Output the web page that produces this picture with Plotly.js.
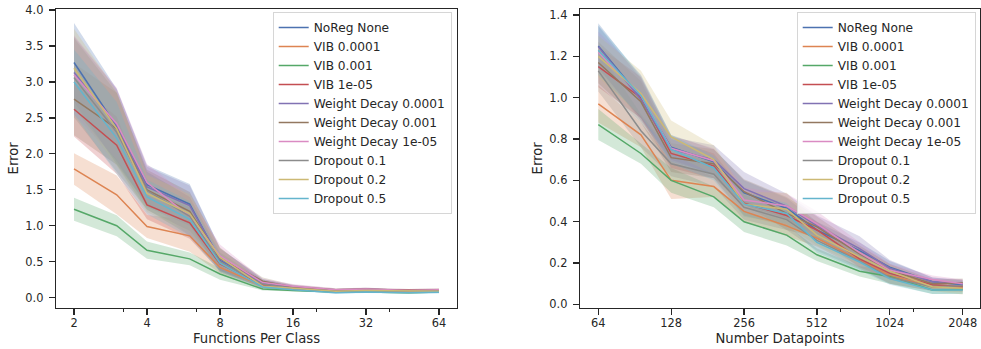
<!DOCTYPE html>
<html>
<head>
<meta charset="utf-8">
<script src="https://cdn.plot.ly/plotly-3.0.1.min.js"></script>
<style>
html,body{margin:0;padding:0;background:#fff;}
#chart{width:981px;height:349px;}
</style>
</head>
<body>
<div id="chart"></div>
<script>
// ---------- data ----------
const seriesNames = ["NoReg None","VIB 0.0001","VIB 0.001","VIB 1e-05","Weight Decay 0.0001","Weight Decay 0.001","Weight Decay 1e-05","Dropout 0.1","Dropout 0.2","Dropout 0.5"];
const seriesColors = ["#4C72B0","#DD8452","#55A868","#C44E52","#8172B3","#937860","#DA8BC3","#8C8C8C","#CCB974","#64B5CD"];

// Left panel: Functions Per Class
const funcX = [2,3,4,6,8,12,16,24,32,48,64];
const funcTickVals = [2,4,8,16,32,64];
const funcTickText = ["2","4","8","16","32","64"];
const funcMinorTicks = [3.2,6.4,20,40];

const funcNoReg   = [3.27,2.38,1.57,1.30,0.52,0.20,0.14,0.10,0.11,0.09,0.10];
const funcVIB1e4  = [1.79,1.43,0.99,0.86,0.42,0.16,0.12,0.09,0.10,0.08,0.09];
const funcVIB1e3  = [1.23,1.00,0.66,0.54,0.33,0.12,0.10,0.08,0.08,0.07,0.08];
const funcVIB1e5  = [2.62,2.12,1.29,1.04,0.47,0.18,0.13,0.10,0.11,0.10,0.10];
const funcWD1e4   = [3.13,2.40,1.54,1.28,0.54,0.20,0.15,0.10,0.12,0.09,0.10];
const funcWD1e3   = [2.76,2.35,1.50,1.20,0.55,0.23,0.15,0.11,0.12,0.10,0.11];
const funcWD1e5   = [3.10,2.42,1.60,1.13,0.58,0.21,0.16,0.11,0.12,0.10,0.11];
const funcDrop01  = [3.06,2.30,1.49,1.13,0.50,0.19,0.13,0.09,0.10,0.09,0.09];
const funcDrop02  = [3.19,2.35,1.45,1.17,0.56,0.16,0.13,0.09,0.10,0.09,0.09];
const funcDrop05  = [3.00,2.22,1.40,1.09,0.48,0.15,0.11,0.07,0.08,0.07,0.075];

const funcNoRegErr  = [0.55,0.52,0.27,0.28,0.17,0.06,0.03,0.02,0.02,0.02,0.02];
const funcVIB1e4Err = [0.22,0.27,0.16,0.22,0.08,0.03,0.02,0.015,0.015,0.01,0.015];
const funcVIB1e3Err = [0.16,0.145,0.12,0.09,0.08,0.02,0.015,0.01,0.01,0.01,0.01];
const funcVIB1e5Err = [0.38,0.40,0.20,0.22,0.10,0.04,0.02,0.015,0.015,0.015,0.015];
const funcWD1e4Err  = [0.50,0.50,0.28,0.28,0.15,0.05,0.03,0.02,0.02,0.02,0.02];
const funcWD1e3Err  = [0.50,0.50,0.28,0.27,0.13,0.05,0.03,0.02,0.02,0.02,0.02];
const funcWD1e5Err  = [0.55,0.50,0.26,0.27,0.16,0.05,0.03,0.02,0.02,0.02,0.02];
const funcDrop01Err = [0.55,0.55,0.26,0.27,0.13,0.05,0.03,0.02,0.02,0.02,0.02];
const funcDrop02Err = [0.55,0.52,0.26,0.27,0.14,0.04,0.03,0.02,0.02,0.02,0.02];
const funcDrop05Err = [0.45,0.50,0.24,0.25,0.12,0.03,0.02,0.015,0.015,0.01,0.015];

// Right panel: Number Datapoints
const dataX = [64,96,128,192,256,384,512,768,1024,1536,2048];
const dataTickVals = [64,128,256,512,1024,2048];
const dataTickText = ["64","128","256","512","1024","2048"];
const dataMinorTicks = [640,1280];

const dataNoReg   = [1.25,1.00,0.76,0.69,0.54,0.465,0.36,0.26,0.18,0.11,0.095];
const dataVIB1e4  = [0.97,0.82,0.60,0.57,0.45,0.38,0.32,0.215,0.14,0.085,0.08];
const dataVIB1e3  = [0.87,0.73,0.60,0.52,0.40,0.335,0.24,0.16,0.135,0.07,0.072];
const dataVIB1e5  = [1.15,1.00,0.73,0.67,0.49,0.43,0.36,0.22,0.15,0.095,0.085];
const dataWD1e4   = [1.247,0.99,0.75,0.70,0.56,0.475,0.38,0.27,0.175,0.11,0.10];
const dataWD1e3   = [1.17,0.98,0.71,0.68,0.545,0.44,0.375,0.245,0.165,0.10,0.105];
const dataWD1e5   = [1.22,1.01,0.755,0.695,0.505,0.476,0.39,0.25,0.165,0.12,0.10];
const dataDrop01  = [1.13,0.84,0.68,0.63,0.47,0.41,0.31,0.21,0.13,0.085,0.09];
const dataDrop02  = [1.20,1.02,0.81,0.70,0.485,0.46,0.335,0.23,0.16,0.085,0.078];
const dataDrop05  = [1.23,1.01,0.75,0.66,0.485,0.44,0.30,0.205,0.125,0.07,0.07];

const dataNoRegErr  = [0.11,0.10,0.06,0.06,0.06,0.05,0.04,0.04,0.03,0.02,0.02];
const dataVIB1e4Err = [0.09,0.06,0.09,0.05,0.05,0.05,0.04,0.04,0.04,0.02,0.02];
const dataVIB1e3Err = [0.075,0.05,0.06,0.05,0.05,0.05,0.03,0.025,0.035,0.02,0.02];
const dataVIB1e5Err = [0.10,0.10,0.07,0.06,0.06,0.05,0.04,0.04,0.03,0.02,0.02];
const dataWD1e4Err  = [0.10,0.10,0.06,0.07,0.08,0.06,0.05,0.06,0.04,0.02,0.02];
const dataWD1e3Err  = [0.10,0.10,0.07,0.07,0.06,0.08,0.05,0.04,0.03,0.02,0.02];
const dataWD1e5Err  = [0.10,0.10,0.06,0.06,0.06,0.06,0.06,0.05,0.03,0.02,0.02];
const dataDrop01Err = [0.10,0.08,0.06,0.06,0.06,0.05,0.05,0.04,0.03,0.02,0.02];
const dataDrop02Err = [0.10,0.11,0.08,0.07,0.06,0.08,0.05,0.04,0.03,0.02,0.03];
const dataDrop05Err = [0.12,0.10,0.07,0.06,0.06,0.05,0.05,0.04,0.03,0.02,0.02];

const funcMeans = [funcNoReg,funcVIB1e4,funcVIB1e3,funcVIB1e5,funcWD1e4,funcWD1e3,funcWD1e5,funcDrop01,funcDrop02,funcDrop05];
const funcErrs  = [funcNoRegErr,funcVIB1e4Err,funcVIB1e3Err,funcVIB1e5Err,funcWD1e4Err,funcWD1e3Err,funcWD1e5Err,funcDrop01Err,funcDrop02Err,funcDrop05Err];
const dataMeans = [dataNoReg,dataVIB1e4,dataVIB1e3,dataVIB1e5,dataWD1e4,dataWD1e3,dataWD1e5,dataDrop01,dataDrop02,dataDrop05];
const dataErrs  = [dataNoRegErr,dataVIB1e4Err,dataVIB1e3Err,dataVIB1e5Err,dataWD1e4Err,dataWD1e3Err,dataWD1e5Err,dataDrop01Err,dataDrop02Err,dataDrop05Err];

// ---------- build ----------
function hexToRgba(hex,a){
  const r=parseInt(hex.slice(1,3),16),g=parseInt(hex.slice(3,5),16),b=parseInt(hex.slice(5,7),16);
  return `rgba(${r},${g},${b},${a})`;
}
const bandTraces=[], lineTraces=[];
function addPanel(xs,means,errs,xa,ya,legendId){
  means.forEach((m,i)=>{
    const upper=m.map((v,k)=>v+errs[i][k]);
    const lower=m.map((v,k)=>v-errs[i][k]);
    bandTraces.push({
      x:xs.concat(xs.slice().reverse()),
      y:upper.concat(lower.slice().reverse()),
      xaxis:xa,yaxis:ya,type:'scatter',mode:'lines',fill:'toself',
      fillcolor:hexToRgba(seriesColors[i],0.26),line:{width:0,color:'rgba(0,0,0,0)'},
      showlegend:false,legend:legendId,hoverinfo:'skip'
    });
    lineTraces.push({
      x:xs,y:m,xaxis:xa,yaxis:ya,type:'scatter',mode:'lines',
      name:seriesNames[i],line:{color:seriesColors[i],width:1.5},
      legend:legendId,showlegend:true,hoverinfo:'skip'
    });
  });
}
addPanel(funcX,funcMeans,funcErrs,'x','y','legend');
addPanel(dataX,dataMeans,dataErrs,'x2','y2','legend2');
const traces=bandTraces.concat(lineTraces);

const W=981,H=349;
const ink='#262626';
const tickFont={family:'DejaVu Sans',size:11.4,color:ink};
const titleFont={family:'DejaVu Sans',size:13.2,color:ink};
const legFont={family:'DejaVu Sans',size:12.2,color:ink};
function xAxis(domain,range,tv,tt,minor,title){
  return {type:'log',domain:domain,range:range,tickmode:'array',tickvals:tv,ticktext:tt,
    showline:true,mirror:true,linecolor:ink,linewidth:1.25,ticks:'outside',ticklen:6,tickwidth:1.25,tickcolor:ink,
    minor:{tickmode:'array',tickvals:minor,ticks:'outside',ticklen:3.5,tickwidth:1,tickcolor:ink,showgrid:false},
    showgrid:false,zeroline:false,tickfont:tickFont,ticklabelstandoff:-2,
    title:{text:title,font:titleFont,standoff:5}};
}
function yAxis(range,dtick,title,anchor){
  return {range:range,dtick:dtick,tick0:0,tickformat:'.1f',domain:[41.3/H,1-9/H],anchor:anchor,
    showline:true,mirror:true,linecolor:ink,linewidth:1.25,ticks:'outside',ticklen:6,tickwidth:1.25,tickcolor:ink,
    showgrid:false,zeroline:false,tickfont:tickFont,ticklabelstandoff:3,
    title:{text:title,font:titleFont,standoff:3}};
}
const legendBase={bgcolor:'rgba(255,255,255,0.8)',bordercolor:'rgba(204,204,204,0.8)',borderwidth:1,
  font:legFont,xanchor:'left',yanchor:'top',itemwidth:30};

const layout={
  width:W,height:H,margin:{l:0,r:0,t:0,b:0},
  paper_bgcolor:'#fff',plot_bgcolor:'#fff',showlegend:true,
  xaxis:Object.assign(xAxis([56/W,457/W],[Math.log10(2)-18/73*Math.log10(2),Math.log10(64)+18/73*Math.log10(2)],funcTickVals,funcTickText,funcMinorTicks,'Functions Per Class'),{anchor:'y'}),
  yaxis:yAxis([-0.139,4.014],0.5,'Error','x'),
  xaxis2:Object.assign(xAxis([580/W,980/W],[Math.log10(64)-18.3/72.9*Math.log10(2),Math.log10(2048)+17.3/72.9*Math.log10(2)],dataTickVals,dataTickText,dataMinorTicks,'Number Datapoints'),{anchor:'y2'}),
  yaxis2:yAxis([-0.016,1.429],0.2,'Error','x2'),
  legend:Object.assign({},legendBase,{x:272.7/W,y:1-12/H}),
  legend2:Object.assign({},legendBase,{x:796.7/W,y:1-12/H})
};
Plotly.newPlot('chart',traces,layout,{staticPlot:true,displayModeBar:false});
</script>
</body>
</html>
